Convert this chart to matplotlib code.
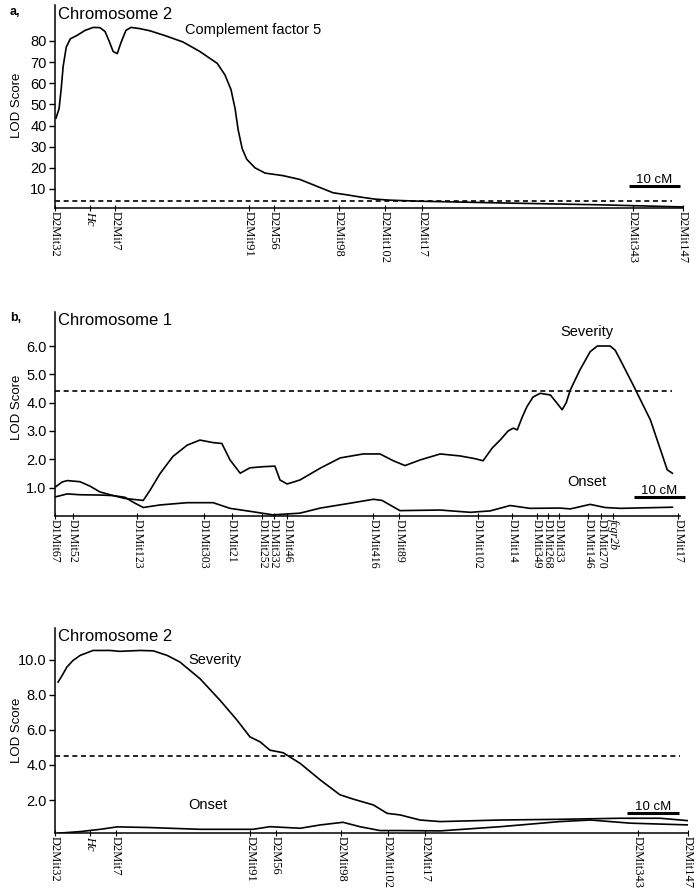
import matplotlib
matplotlib.use("Agg")
import matplotlib.pyplot as plt

W, H = 699, 888

# ---------------- data ----------------
chr2_markers = ["D2Mit32", "Hc", "D2Mit7", "D2Mit91", "D2M56", "D2Mit98",
                "D2Mit102", "D2Mit17", "D2Mit343", "D2Mit147"]
chr2_pos = [0.0, 6.9, 11.8, 38.0, 42.9, 55.7, 64.7, 72.0, 113.3, 123.1]

c5_x = [0.2, 0.8, 1.2, 1.6, 2.2, 3.0, 4.3, 5.9, 7.5, 8.8, 9.8, 10.6, 11.4, 12.2,
        12.9, 13.9, 14.9, 16.7, 18.6, 21.6, 25.1, 28.4, 31.8, 33.3, 34.5, 35.3,
        35.9, 36.7, 37.6, 39.2, 41.2, 44.7, 48.0, 51.4, 54.5, 57.3, 59.8, 62.7,
        65.7, 71.6, 87.3, 106.9, 123.1]
c5_lod = [43.5, 48, 57, 68, 77, 81, 82.6, 85, 86.4, 86.3, 84.5, 80, 75, 74,
          79, 85, 86.4, 85.8, 84.8, 82.5, 79.5, 75, 69.4, 64, 57, 48,
          38, 29, 24, 20, 17.5, 16.3, 14.5, 11.2, 8.2, 7.2, 6.2, 5.2,
          4.7, 4.2, 3.4, 2.5, 1.5]
c5_threshold = 4.4

chr1_markers = ["D1Mit67", "D1Mit52", "D1Mit123", "D1Mit303", "D1Mit21",
                "D1Mit252", "D1Mit332", "D1Mit46", "D1Mit416", "D1Mit89",
                "D1Mit102", "D1Mit14", "D1Mit349", "D1Mit268", "D1Mit33",
                "D1Mit146", "D1Mit270", "fcgr2b", "D1Mit17"]
chr1_pos = [0.0, 3.5, 16.1, 29.2, 34.7, 40.6, 42.9, 45.5, 62.4, 67.5,
            82.9, 89.6, 94.4, 96.6, 98.8, 104.5, 107.1, 109.4, 122.2]

chr1_sev_x = [0.2, 1.4, 2.4, 4.9, 6.9, 8.8, 11.4, 13.7, 15.7, 17.3, 18.6, 20.6,
              23.1, 25.9, 28.4, 31.0, 32.7, 34.3, 36.3, 38.2, 40.8, 43.1, 44.1,
              45.5, 48.0, 52.0, 55.9, 60.4, 63.7, 66.3, 68.6, 71.6, 75.5, 79.4,
              82.4, 83.9, 85.7, 87.3, 88.8, 89.8, 90.6, 91.6, 92.5, 93.7, 95.1,
              97.1, 98.4, 99.4, 100.2, 101.0, 102.9, 104.9, 106.3, 108.8, 109.8,
              110.8, 113.3, 116.7, 120.0, 121.0]
chr1_sev = [1.04, 1.2, 1.25, 1.21, 1.05, 0.85, 0.72, 0.62, 0.58, 0.55, 0.9, 1.5,
            2.1, 2.5, 2.68, 2.59, 2.56, 1.98, 1.51, 1.7, 1.74, 1.76, 1.27,
            1.13, 1.27, 1.69, 2.05, 2.19, 2.19, 1.95, 1.78, 1.98, 2.19, 2.12,
            2.02, 1.95, 2.4, 2.69, 3.0, 3.1, 3.04, 3.5, 3.86, 4.2, 4.33,
            4.27, 3.98, 3.75, 4.0, 4.45, 5.16, 5.8, 6.0, 6.0, 5.85,
            5.51, 4.63, 3.39, 1.63, 1.51]

chr1_ons_x = [0.2, 2.4, 4.9, 8.8, 11.4, 13.7, 15.7, 17.3, 20.6, 25.9, 31.0, 34.3,
              38.8, 42.7, 48.0, 52.0, 57.8, 62.4, 64.1, 67.6, 75.5, 81.4, 85.3,
              89.2, 93.1, 99.0, 101.0, 104.9, 107.8, 110.8, 121.0]
chr1_ons = [0.68, 0.78, 0.75, 0.74, 0.72, 0.66, 0.45, 0.3, 0.39, 0.47, 0.47, 0.27,
            0.15, 0.04, 0.1, 0.28, 0.45, 0.59, 0.55, 0.19, 0.21, 0.13, 0.18,
            0.37, 0.27, 0.28, 0.25, 0.41, 0.3, 0.27, 0.31]
chr1_threshold = 4.4

chr2_sev_x = [0.6, 1.4, 2.3, 3.5, 4.9, 7.4, 10.7, 12.6, 16.5, 19.1, 21.8, 24.3,
              28.2, 32.1, 35.4, 37.9, 39.9, 41.8, 44.4, 47.7, 51.6, 55.4, 58.0,
              61.9, 64.6, 67.1, 71.0, 74.9, 86.6, 98.2, 109.9, 117.7, 123.2]
chr2_sev = [8.72, 9.1, 9.57, 9.95, 10.24, 10.52, 10.52, 10.47, 10.52, 10.5, 10.24,
            9.86, 8.91, 7.68, 6.55, 5.6, 5.31, 4.84, 4.69, 4.08, 3.14, 2.3, 2.05,
            1.72, 1.24, 1.15, 0.86, 0.77, 0.86, 0.9, 0.96, 0.96, 0.82]

chr2_ons_x = [0.6, 4.9, 8.8, 12.1, 18.5, 28.2, 38.5, 41.8, 45.1, 47.7, 51.6, 56.0,
              59.3, 63.2, 67.1, 74.9, 86.6, 98.2, 104.1, 111.9, 123.2]
chr2_ons = [0.11, 0.2, 0.33, 0.47, 0.43, 0.33, 0.33, 0.48, 0.43, 0.39, 0.58, 0.73,
            0.48, 0.26, 0.26, 0.24, 0.48, 0.77, 0.86, 0.68, 0.58]
chr2_threshold = 4.5

# ---------------- figure ----------------
fig = plt.figure(figsize=(W / 100, H / 100), dpi=100)
SANS = ["Liberation Sans", "DejaVu Sans"]
SERIF = ["Liberation Serif", "DejaVu Serif"]
plt.rcParams["font.family"] = SANS


def make_axes(x0, x1, ytop, ybot):
    return fig.add_axes([x0 / W, 1 - ybot / H, (x1 - x0) / W, (ybot - ytop) / H])


def style(ax, xmax, ylim, yticks, ylabels, markers, pos, italic, ylab_y, lsize=9):
    for s in ("top", "right"):
        ax.spines[s].set_visible(False)
    for s in ("left", "bottom"):
        ax.spines[s].set_linewidth(1.1)
    ax.set_xlim(0, xmax)
    ax.set_ylim(*ylim)
    ax.set_yticks(yticks)
    ax.set_yticklabels(ylabels, fontsize=10.5, family=SANS)
    ax.tick_params(axis="y", direction="out", length=4, width=1, pad=2)
    ax.set_xticks(pos)
    ax.set_xticklabels(markers, rotation=270, fontsize=lsize, family=SERIF)
    ax.tick_params(axis="x", direction="inout", length=4, width=0.8, pad=0.5)
    for lbl in ax.get_xticklabels():
        if lbl.get_text() in italic:
            lbl.set_style("italic")
    fig.text(17 / W, 1 - ylab_y / H, "LOD Score", rotation=90, fontsize=9.5,
             ha="center", va="center")
    ax.patch.set_alpha(0)


def scalebar(ax, x1, y, label):
    ax.plot([x1 - 10, x1], [y, y], color="black", lw=2.2, solid_capstyle="butt",
            clip_on=False)
    ax.text(x1 - 5, y, label, ha="center", va="bottom", fontsize=9.5)


LW = 1.2
DASH = (0, (3, 2.2))

# ---- panel a ----
ax1 = make_axes(55, 683, 5, 208)
ax1.plot(c5_x, c5_lod, color="black", lw=LW)
ax1.plot([0, 121], [c5_threshold, c5_threshold], color="black", lw=1.2, linestyle=DASH)
style(ax1, 123.1, (1, 97), [10, 20, 30, 40, 50, 60, 70, 80],
      ["10", "20", "30", "40", "50", "60", "70", "80"], chr2_markers, chr2_pos,
      {"Hc"}, 105)
ax1.text(0.6, 96, "Chromosome 2", fontsize=12, va="top", ha="left")
ax1.text(25.5, 85, "Complement factor 5", fontsize=10.5, va="center", ha="left")
scalebar(ax1, 122.5, 11.5, "10 cM")

# ---- panel b, chromosome 1 ----
ax2 = make_axes(55, 680, 312, 516)
ax2.plot(chr1_sev_x, chr1_sev, color="black", lw=LW)
ax2.plot(chr1_ons_x, chr1_ons, color="black", lw=LW)
ax2.plot([0, 121], [chr1_threshold, chr1_threshold], color="black", lw=1.2, linestyle=DASH)
style(ax2, 122.5, (0, 7.2), [1, 2, 3, 4, 5, 6],
      ["1.0", "2.0", "3.0", "4.0", "5.0", "6.0"], chr1_markers, chr1_pos,
      {"fcgr2b"}, 407, lsize=8.6)
ax2.text(0.6, 7.15, "Chromosome 1", fontsize=12, va="top", ha="left")
ax2.text(104.3, 6.5, "Severity", fontsize=10.5, va="center", ha="center")
ax2.text(104.3, 1.2, "Onset", fontsize=10.5, va="center", ha="center")
scalebar(ax2, 123.4, 0.67, "10 cM")

# ---- panel b, chromosome 2 ----
ax3 = make_axes(55, 688, 628, 833)
ax3.plot(chr2_sev_x, chr2_sev, color="black", lw=LW)
ax3.plot(chr2_ons_x, chr2_ons, color="black", lw=LW)
ax3.plot([0, 121.5], [chr2_threshold, chr2_threshold], color="black", lw=1.2, linestyle=DASH)
style(ax3, 123.1, (0.12, 11.8), [2, 4, 6, 8, 10],
      ["2.0", "4.0", "6.0", "8.0", "10.0"], chr2_markers, chr2_pos,
      {"Hc"}, 730)
ax3.text(0.6, 11.75, "Chromosome 2", fontsize=12, va="top", ha="left")
ax3.text(26.0, 10.0, "Severity", fontsize=10.5, va="center", ha="left")
ax3.text(26.0, 1.7, "Onset", fontsize=10.5, va="center", ha="left")
scalebar(ax3, 121.3, 1.24, "10 cM")

fig.text(10 / W, 1 - 12 / H, "a,", fontsize=9, fontweight="bold", va="center")
fig.text(10 / W, 1 - 318 / H, "b,", fontsize=9, fontweight="bold", va="center")

fig.savefig("out.png", dpi=100, facecolor="white")
